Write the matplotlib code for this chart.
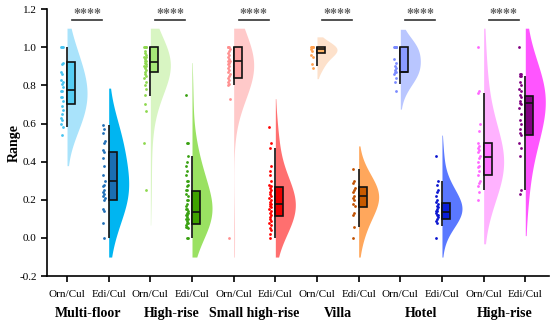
import numpy as np
import matplotlib
matplotlib.use("Agg")
import matplotlib.pyplot as plt
from matplotlib.patches import Rectangle

plt.rcParams["font.family"] = ["Liberation Serif", "DejaVu Serif"]

# ── data ─────────────────────────────────────────────────────────
groups = ["Multi-floor", "High-rise", "Small high-rise", "Villa", "Hotel", "High-rise"]
tick_labels = ["Orn/Cul", "Edi/Cul"] * 6

orn_points = [
    [1.0, 1.0, 1.0, 0.92, 0.91, 0.87, 0.86, 0.83, 0.82, 0.81, 0.79, 0.77, 0.77,
     0.74, 0.74, 0.72, 0.69, 0.67, 0.65, 0.63, 0.62, 0.60, 0.58, 0.54],
    [1.0, 1.0, 1.0, 1.0, 0.98, 0.97, 0.96, 0.95, 0.95, 0.94, 0.93, 0.93, 0.92, 0.91,
     0.90, 0.90, 0.89, 0.88, 0.87, 0.86, 0.85, 0.84, 0.82, 0.80, 0.78, 0.75, 0.70,
     0.665, 0.50, 0.25],
    [1.0, 1.0, 1.0, 0.99, 0.98, 0.97, 0.96, 0.95, 0.94, 0.93, 0.93, 0.92, 0.91, 0.90,
     0.89, 0.88, 0.87, 0.86, 0.85, 0.84, 0.83, 0.82, 0.81, 0.80, 0.73, 0.0],
    [1.0, 1.0, 1.0, 1.0, 1.0, 0.99, 0.98, 0.96, 0.95, 0.91, 0.89],
    [1.0, 1.0, 1.0, 1.0, 1.0, 1.0, 1.0, 0.94, 0.92, 0.90, 0.89, 0.88, 0.87, 0.87,
     0.86, 0.84, 0.82, 0.77],
    [1.0, 0.77, 0.76, 0.60, 0.56, 0.50, 0.48, 0.47, 0.46, 0.45, 0.43, 0.42, 0.40,
     0.38, 0.37, 0.35, 0.33, 0.30, 0.29, 0.27, 0.24, 0.20],
]
edi_points = [
    [0.59, 0.57, 0.55, 0.51, 0.50, 0.46, 0.45, 0.42, 0.38, 0.33, 0.30, 0.28, 0.27,
     0.25, 0.24, 0.23, 0.22, 0.21, 0.20, 0.15, 0.14, 0.08, 0.0],
    [0.75, 0.50, 0.50, 0.43, 0.40, 0.38, 0.35, 0.33, 0.30, 0.30, 0.28, 0.27, 0.25,
     0.25, 0.23, 0.22, 0.20, 0.20, 0.18, 0.17, 0.15, 0.15, 0.14, 0.13, 0.13, 0.12,
     0.12, 0.11, 0.10, 0.10, 0.09, 0.08, 0.08, 0.07, 0.06, 0.06, 0.05, 0.0, 0.0],
    [0.58, 0.50, 0.47, 0.38, 0.35, 0.33, 0.30, 0.28, 0.27, 0.26, 0.25, 0.24, 0.23,
     0.22, 0.21, 0.20, 0.19, 0.18, 0.18, 0.17, 0.16, 0.15, 0.14, 0.13, 0.12, 0.11,
     0.10, 0.09, 0.08, 0.07, 0.05, 0.04, 0.02, 0.0],
    [0.36, 0.30, 0.29, 0.26, 0.25, 0.24, 0.22, 0.21, 0.20, 0.18, 0.17, 0.13, 0.12,
     0.06, 0.0],
    [0.43, 0.30, 0.28, 0.25, 0.24, 0.22, 0.20, 0.19, 0.18, 0.17, 0.16, 0.15, 0.14,
     0.14, 0.13, 0.12, 0.12, 0.11, 0.10, 0.09, 0.08, 0.0],
    [1.0, 0.86, 0.86, 0.85, 0.85, 0.82, 0.80, 0.78, 0.77, 0.75, 0.74, 0.72, 0.71,
     0.70, 0.68, 0.65, 0.62, 0.60, 0.57, 0.55, 0.54, 0.50, 0.47, 0.43, 0.25, 0.23],
]

# box stats: (whisker low, Q1, median, Q3, whisker high)
orn_box = [
    (0.58, 0.70, 0.775, 0.925, 1.0),
    (0.745, 0.87, 0.925, 1.0, 1.0),
    (0.80, 0.84, 0.93, 1.0, 1.0),
    (0.90, 0.97, 0.99, 1.0, 1.0),
    (0.81, 0.87, 0.87, 1.0, 1.0),
    (0.25, 0.33, 0.425, 0.50, 0.76),
]
edi_box = [
    (0.0, 0.20, 0.30, 0.45, 0.59),
    (0.0, 0.075, 0.135, 0.245, 0.43),
    (0.0, 0.115, 0.18, 0.265, 0.47),
    (0.055, 0.165, 0.22, 0.265, 0.36),
    (0.065, 0.10, 0.135, 0.185, 0.30),
    (0.25, 0.54, 0.71, 0.745, 0.85),
]

# colours: (violin, box, points)
orn_colors = [
    ("#a9e3fb", "#55cdf3", "#45c3f0"),
    ("#d8f5c2", "#a6e878", "#8ed84e"),
    ("#ffc9c9", "#ffa3a3", "#ff8f8f"),
    ("#fde1cb", "#ffb466", "#ffa04e"),
    ("#b9c6ff", "#8a9aff", "#7a8aff"),
    ("#ffb2ff", "#ff74ff", "#ff66ff"),
]
edi_colors = [
    ("#00b5f1", "#1b6fb2", "#1f6fb8"),
    ("#9ae162", "#3fa200", "#38a010"),
    ("#ff6f6f", "#ec0000", "#ff0000"),
    ("#ffa75c", "#c75a00", "#c05000"),
    ("#5a78ff", "#0a1ed8", "#0a14d0"),
    ("#ff55ff", "#820082", "#800080"),
]


def kde_curve(vals, lo_clip=-0.1, hi_clip=1.1, cut=1.4):
    vals = np.asarray(vals, dtype=float)
    bw = 1.6 * vals.std(ddof=1) * len(vals) ** (-1 / 5)
    lo = max(vals.min() - cut * bw, lo_clip)
    hi = min(vals.max() + cut * bw, hi_clip)
    y = np.linspace(lo, hi, 300)
    d = np.exp(-0.5 * ((y[:, None] - vals[None, :]) / bw) ** 2).sum(axis=1)
    return y, d / d.max()


def raincloud(ax, x, vals, box, colors):
    c_violin, c_box, c_pts = colors
    # half violin to the right of the tick
    y, d = kde_curve(vals)
    ax.fill_betweenx(y, x, x + d * 0.48, color=c_violin, lw=0, zorder=1)
    # jittered points to the left
    jit = np.array([-0.025, 0.015, -0.01, 0.025, 0.0, -0.015, 0.01])
    offs = -0.12 + jit[np.arange(len(vals)) % len(jit)]
    ax.scatter(x + offs, vals, s=4, color=c_pts, lw=0, zorder=3)
    # box with its left edge on the tick
    wlo, q1, med, q3, whi = box
    w = 0.19
    ax.vlines(x, wlo, whi, color="#111111", lw=1.2, zorder=4)
    ax.add_patch(Rectangle((x, q1), w, q3 - q1, facecolor=c_box,
                           edgecolor="#111111", lw=1.2, zorder=5))
    ax.hlines(med, x, x + w, color="#111111", lw=1.2, zorder=6)


fig = plt.figure(figsize=(5.5, 3.26), dpi=100)
ax = fig.add_axes([0.0855, 0.153, 0.912, 0.819])

for i in range(6):
    xo = 2 * i + 1
    xe = 2 * i + 2
    raincloud(ax, xo, orn_points[i], orn_box[i], orn_colors[i])
    raincloud(ax, xe, edi_points[i], edi_box[i], edi_colors[i])
    # significance bar
    ax.plot([xo + 0.12, xo + 0.84], [1.141, 1.141], color="#333333", lw=1.2)
    ax.text((xo + xe) / 2 - 0.02, 1.138, "****", ha="center", va="bottom",
            fontsize=10, color="#666666", fontweight="bold")
    ax.text((xo + xe) / 2, -0.395, groups[i], ha="center", va="center",
            fontsize=10, fontweight="bold")

ax.set_xlim(0.52, 12.56)
ax.set_ylim(-0.2, 1.2)
ax.set_yticks(np.arange(-0.2, 1.21, 0.2))
ax.set_yticklabels([f"{v:.1f}" for v in np.arange(-0.2, 1.21, 0.2)])
ax.set_xticks(np.arange(1, 13))
ax.set_xticklabels(tick_labels)
ax.tick_params(axis="both", direction="out", length=4, width=1.2, labelsize=8)
ax.tick_params(axis="x", pad=6)
ax.set_ylabel("Range", fontsize=10, fontweight="bold")
ax.yaxis.set_label_coords(-0.052, 0.5)

for side in ("top", "right"):
    ax.spines[side].set_visible(False)
for side in ("left", "bottom"):
    ax.spines[side].set_linewidth(1.2)

fig.savefig("out.png", dpi=100)
